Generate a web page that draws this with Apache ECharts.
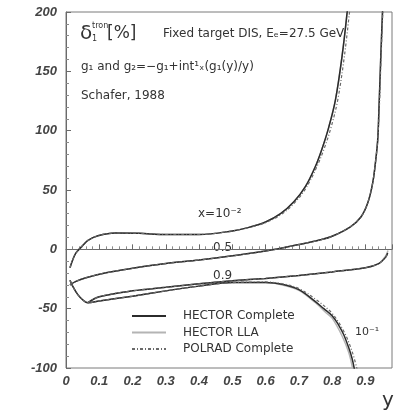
<!DOCTYPE html>
<html>
<head>
<meta charset="utf-8">
<script src="https://cdn.jsdelivr.net/npm/echarts@6/dist/echarts.min.js"></script>
<style>
  html, body { margin: 0; padding: 0; background: #ffffff; }
  #chart { width: 394px; height: 413px; }
</style>
</head>
<body>
<div id="chart"></div>
<script>
// Radiative correction delta (percent) versus y, one curve per Bjorken x.
// Each point is [y, delta].

// x = 10^-2
const completeX001 = [[0.012,-15.6],[0.02,-9],[0.03,-3],[0.048,2.5],[0.066,7.5],[0.096,11.4],[0.148,13.8],[0.22,13.5],[0.3,12.5],[0.4,12.5],[0.5,15.5],[0.55,18.5],[0.6,23],[0.645,30],[0.685,40],[0.72,53],[0.75,70],[0.77,85],[0.79,103],[0.81,126],[0.83,163],[0.846,202]];
const llaX001      = [[0.012,-15.6],[0.02,-9],[0.03,-3],[0.048,2.5],[0.066,7.5],[0.096,11.4],[0.148,13.8],[0.22,13.5],[0.3,12.5],[0.4,12.5],[0.5,15.5],[0.55,18.5],[0.6,23],[0.645,30],[0.685,40],[0.72,53],[0.75,70],[0.77,85],[0.79,103],[0.81,126],[0.83,163],[0.846,202]];
const polradX001   = [[0.012,-15.6],[0.02,-9],[0.03,-3],[0.048,2.5],[0.066,7.5],[0.096,11.4],[0.148,13.8],[0.22,13.5],[0.3,12.5],[0.4,12.5],[0.5,15.5],[0.55,18.3],[0.6,22.5],[0.645,29],[0.685,38.5],[0.72,51],[0.75,67],[0.775,84],[0.797,103],[0.817,126],[0.837,163],[0.853,202]];

// x = 0.5
const completeX05 = [[0.012,-30],[0.03,-27],[0.06,-24],[0.117,-20],[0.2,-16],[0.3,-12],[0.4,-9],[0.5,-5.5],[0.6,-1.5],[0.7,4],[0.765,8],[0.8,11],[0.855,19],[0.886,27],[0.907,39],[0.922,56],[0.931,75],[0.937,92],[0.941,120],[0.946,160],[0.952,204]];
const llaX05      = [[0.012,-30],[0.03,-27],[0.06,-24],[0.117,-20],[0.2,-16],[0.3,-12],[0.4,-9],[0.5,-5.5],[0.6,-1.5],[0.7,4],[0.765,8],[0.8,11],[0.855,19],[0.886,27],[0.907,39],[0.922,56],[0.931,75],[0.937,92],[0.941,120],[0.946,160],[0.952,204]];
const polradX05   = [[0.012,-30],[0.03,-27],[0.06,-24],[0.117,-20],[0.2,-16],[0.3,-12],[0.4,-9],[0.5,-5.5],[0.6,-1.5],[0.7,4],[0.765,8],[0.8,11],[0.855,19],[0.886,27],[0.907,39],[0.922,56],[0.931,75],[0.937,92],[0.942,120],[0.947,160],[0.953,204]];

// x = 0.9
const completeX09 = [[0.066,-45],[0.1,-40],[0.2,-35],[0.3,-32],[0.4,-29],[0.5,-26.5],[0.6,-24.5],[0.7,-22],[0.8,-19],[0.9,-15.5],[0.94,-12],[0.96,-7],[0.967,-3]];
const llaX09      = [[0.066,-45],[0.1,-40],[0.2,-35],[0.3,-32],[0.4,-29],[0.5,-26.5],[0.6,-24.5],[0.7,-22],[0.8,-19],[0.9,-15.5],[0.94,-12],[0.96,-6],[0.968,-1]];
const polradX09   = [[0.066,-45],[0.1,-40],[0.2,-35],[0.3,-32],[0.4,-29],[0.5,-26.5],[0.6,-24.5],[0.7,-22],[0.8,-19],[0.9,-15.5],[0.94,-12],[0.96,-7],[0.967,-3]];

// x = 10^-1
const completeX01 = [[0.012,-26],[0.02,-31],[0.035,-38],[0.05,-42.5],[0.066,-45],[0.1,-43.5],[0.2,-39.5],[0.3,-35],[0.4,-31],[0.5,-28],[0.6,-28],[0.65,-29.5],[0.7,-34],[0.745,-43],[0.775,-50],[0.8,-56],[0.82,-64],[0.835,-72],[0.85,-83],[0.86,-92],[0.867,-101]];
const llaX01      = [[0.012,-26],[0.02,-31],[0.035,-38],[0.05,-42.5],[0.066,-45],[0.1,-43.5],[0.2,-39.5],[0.3,-35],[0.4,-31],[0.5,-28],[0.6,-28],[0.65,-30],[0.7,-34.5],[0.75,-45],[0.78,-53],[0.8,-58],[0.83,-73],[0.85,-87],[0.862,-101]];
const polradX01   = [[0.012,-26],[0.02,-31],[0.035,-38],[0.05,-42.5],[0.066,-45],[0.1,-43.5],[0.2,-39.5],[0.3,-35],[0.4,-31],[0.5,-28],[0.6,-27.5],[0.65,-29],[0.7,-33],[0.75,-42],[0.8,-54],[0.835,-69],[0.86,-86],[0.875,-101]];

// Axis ticks
const yTicks = [-100, -50, 0, 50, 100, 150, 200];
const xTickStep = 0.1;

const chart = echarts.init(document.getElementById('chart'), null, { renderer: 'canvas' });

const styles = {
  'HECTOR Complete': { color: '#2b2b2b', width: 1.5, type: 'solid', z: 4 },
  'HECTOR LLA':      { color: '#b4b4b4', width: 1.5, type: 'solid', z: 3 },
  'POLRAD Complete': { color: '#6a6a6a', width: 1.2, type: [3, 2, 1, 2], z: 5 }
};

function lineSeries(name, data) {
  const s = styles[name];
  return {
    type: 'line', name: name, data: data, smooth: 0.35,
    showSymbol: false, symbol: 'none', clip: true, z: s.z,
    lineStyle: { color: s.color, width: s.width, type: s.type },
    itemStyle: { color: s.color },
    emphasis: { disabled: true }, silent: true, animation: false
  };
}

const series = [
  lineSeries('HECTOR LLA', llaX001),
  lineSeries('HECTOR LLA', llaX05),
  lineSeries('HECTOR LLA', llaX09),
  lineSeries('HECTOR LLA', llaX01),
  lineSeries('HECTOR Complete', completeX001),
  lineSeries('HECTOR Complete', completeX05),
  lineSeries('HECTOR Complete', completeX09),
  lineSeries('HECTOR Complete', completeX01),
  lineSeries('POLRAD Complete', polradX001),
  lineSeries('POLRAD Complete', polradX05),
  lineSeries('POLRAD Complete', polradX09),
  lineSeries('POLRAD Complete', polradX01)
];

const labelFont = { color: '#444', fontFamily: 'Liberation Sans', fontStyle: 'italic', fontWeight: 'bold', fontSize: 13 };
const noteFont = 'DejaVu Sans';

const option = {
  animation: false,
  backgroundColor: '#ffffff',
  grid: { left: 66, right: 2, top: 12, bottom: 45, show: true, borderColor: '#7a7a7a', borderWidth: 1 },
  legend: {
    show: true,
    data: ['HECTOR Complete', 'HECTOR LLA', 'POLRAD Complete'],
    orient: 'vertical', left: 126, top: 305,
    itemWidth: 34, itemHeight: 14, itemGap: 4.5,
    itemStyle: { opacity: 0 },
    textStyle: { fontFamily: noteFont, fontSize: 12, color: '#333', padding: [0, 0, 0, 12] },
    selectedMode: false
  },
  xAxis: {
    type: 'value', min: 0, max: 0.98, interval: xTickStep,
    axisLine: { show: true, lineStyle: { color: '#6a6a6a', width: 1 } },
    axisTick: { show: true, inside: true, length: 5, lineStyle: { color: '#6a6a6a' } },
    minorTick: { show: true, splitNumber: 5, length: 3, lineStyle: { color: '#8a8a8a' } },
    splitLine: { show: false },
    axisLabel: Object.assign({ margin: 7, showMaxLabel: false }, labelFont)
  },
  yAxis: {
    type: 'value', min: yTicks[0], max: yTicks[yTicks.length - 1], interval: 50,
    axisLine: { show: true, lineStyle: { color: '#6a6a6a', width: 1 } },
    axisTick: { show: true, inside: true, length: 5, lineStyle: { color: '#6a6a6a' } },
    minorTick: { show: true, splitNumber: 5, length: 3, lineStyle: { color: '#8a8a8a' } },
    splitLine: { show: false },
    axisLabel: Object.assign({ margin: 9 }, labelFont)
  },
  series: series,
  graphic: [
    { type: 'text', left: 80, top: 24, style: { text: 'δ', font: '20px "DejaVu Sans"', fill: '#333' } },
    { type: 'text', left: 92, top: 35, style: { text: '1', font: '8px "DejaVu Sans"', fill: '#333' } },
    { type: 'text', left: 92, top: 22, style: { text: 'tron', font: '8px "DejaVu Sans"', fill: '#333' } },
    { type: 'text', left: 107, top: 25, style: { text: '[%]', font: '17px "DejaVu Sans"', fill: '#333' } },
    { type: 'text', left: 163, top: 28, style: { text: 'Fixed target DIS, Eₑ=27.5 GeV', font: '12px "DejaVu Sans"', fill: '#333' } },
    { type: 'text', left: 81, top: 61, style: { text: 'g₁ and g₂=−g₁+int¹ₓ(g₁(y)/y)', font: '12px "DejaVu Sans"', fill: '#333' } },
    { type: 'text', left: 81, top: 90, style: { text: 'Schafer, 1988', font: '12px "DejaVu Sans"', fill: '#333' } },
    { type: 'text', left: 198, top: 208, style: { text: 'x=10⁻²', font: '12px "DejaVu Sans"', fill: '#333' } },
    { type: 'text', left: 213, top: 242, style: { text: '0.5', font: '12px "DejaVu Sans"', fill: '#333' } },
    { type: 'text', left: 213, top: 270, style: { text: '0.9', font: '12px "DejaVu Sans"', fill: '#333' } },
    { type: 'text', left: 355, top: 327, style: { text: '10⁻¹', font: '11px "DejaVu Sans"', fill: '#333' } },
    { type: 'text', left: 382, top: 391, style: { text: 'y', font: '20px "DejaVu Sans"', fill: '#333' } }
  ]
};

chart.setOption(option);
</script>
</body>
</html>
